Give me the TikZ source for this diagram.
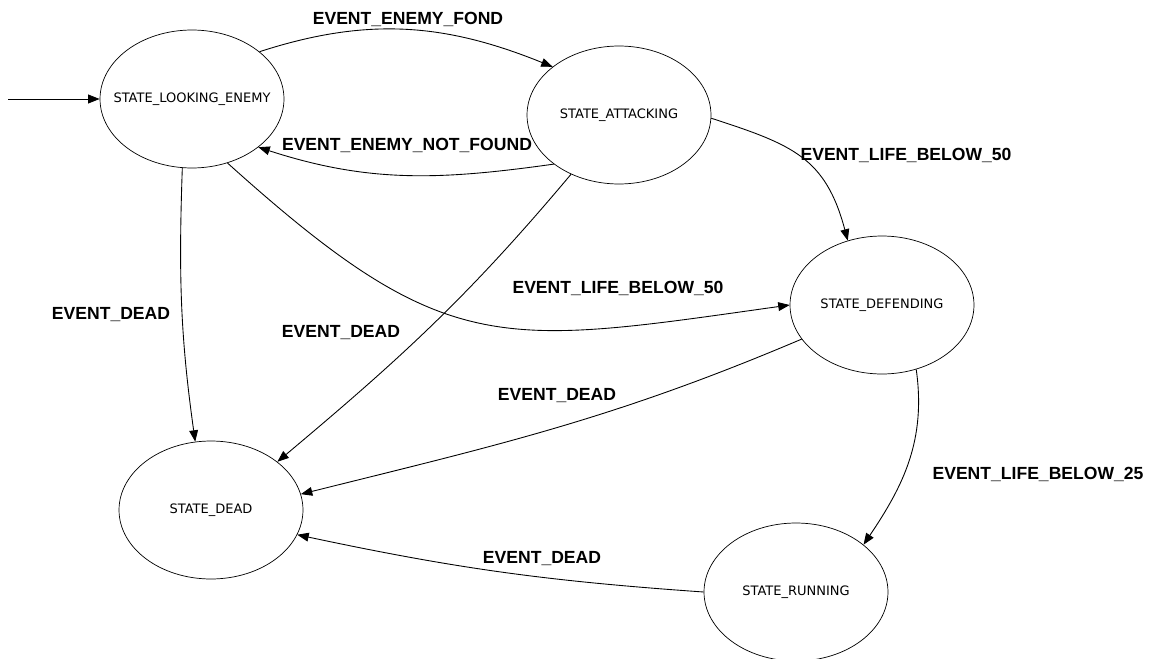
\documentclass[tikz,border=0pt]{standalone}
\usepackage{fontspec}
\setmainfont{Liberation Sans}
\newfontfamily\statefont{DejaVu Sans}
\usetikzlibrary{shapes.geometric,arrows.meta}

\begin{document}
\begin{tikzpicture}[x=0.02cm, y=0.02cm,
  state/.style={draw, ellipse, line width=0.4pt, minimum width=3.68cm, minimum height=2.76cm, inner xsep=-0.4cm, inner ysep=0pt, font=\statefont\fontsize{7.4}{9}\selectfont},
  event/.style={inner sep=0pt, font=\bfseries\fontsize{10}{12}\selectfont},
  trans/.style={line width=0.5pt, -{Triangle[length=6.5pt,width=5pt]}}]
\useasboundingbox (0,0) rectangle (1150,-659);
\node [state] (looking) at (192,-99) {STATE\_LOOKING\_ENEMY};
\node [state] (attacking) at (619,-115) {STATE\_ATTACKING};
\node [state] (defending) at (882,-305) {STATE\_DEFENDING};
\node [state] (dead) at (211,-510) {STATE\_DEAD};
\node [state] (running) at (796,-592) {STATE\_RUNNING};
\coordinate (start) at (8,-99);
\draw [trans] (start) -- (looking);
\draw [trans] (looking.35) to [out=18, in=158] (attacking.144);
\draw [trans] (attacking.217) to [out=188, in=-18] (looking.324);
\draw [trans] (looking.262) to [out=268, in=98] (dead.103);
\draw [trans] (attacking.231) to [out=230, in=40] (dead.36);
\draw [trans] (looking.299) to [out=-42, in=188, looseness=1.3] (defending.west);
\draw [trans] (attacking.-2) to [out=-18, in=105, looseness=1.2] (defending.118);
\draw [trans] (defending.203) to [out=203, in=14] (dead.10);
\draw [trans] (defending.298) to [out=278, in=56] (running.35);
\draw [trans] (running.west) to [out=176, in=-12] (dead.-16);
\node [event] (fond) at (408,-19) {EVENT\_ENEMY\_FOND};
\node [event] (notfound) at (407,-145) {EVENT\_ENEMY\_NOT\_FOUND};
\node [event] (lifea) at (906,-155) {EVENT\_LIFE\_BELOW\_50};
\node [event] (lifeb) at (618,-288) {EVENT\_LIFE\_BELOW\_50};
\node [event] (deada) at (111,-315) {EVENT\_DEAD};
\node [event] (deadb) at (341,-333) {EVENT\_DEAD};
\node [event] (deadc) at (557,-396) {EVENT\_DEAD};
\node [event] (lifec) at (1038,-474) {EVENT\_LIFE\_BELOW\_25};
\node [event] (deadd) at (542,-559) {EVENT\_DEAD};
\end{tikzpicture}
\end{document}
